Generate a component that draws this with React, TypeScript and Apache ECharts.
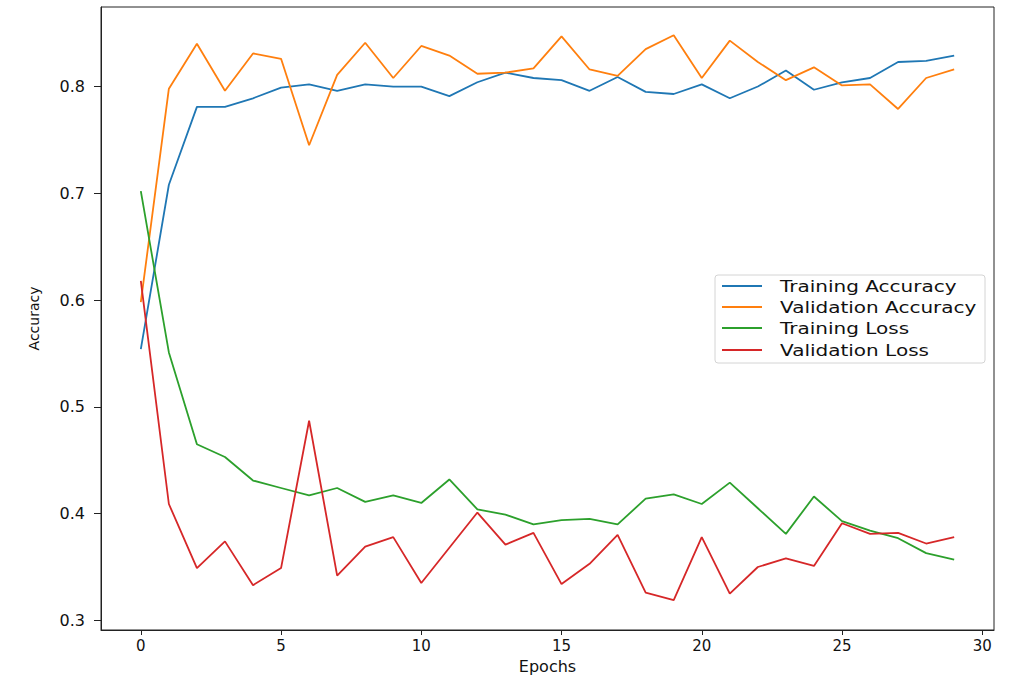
import React, { useEffect, useRef } from "react";
import * as echarts from "echarts";

const epochs = Array.from({ length: 30 }, (_, i) => i);

const trainingAccuracy = [
  0.554, 0.708, 0.781, 0.781, 0.789, 0.799, 0.802, 0.796, 0.802, 0.800,
  0.800, 0.791, 0.804, 0.813, 0.808, 0.806, 0.796, 0.809, 0.795, 0.793,
  0.802, 0.789, 0.800, 0.815, 0.797, 0.804, 0.808, 0.823, 0.824, 0.829,
];
const validationAccuracy = [
  0.598, 0.798, 0.840, 0.796, 0.831, 0.826, 0.745, 0.811, 0.841, 0.808,
  0.838, 0.829, 0.812, 0.813, 0.817, 0.847, 0.816, 0.810, 0.835, 0.848,
  0.808, 0.843, 0.823, 0.806, 0.818, 0.801, 0.802, 0.779, 0.808, 0.816,
];
const trainingLoss = [
  0.702, 0.551, 0.465, 0.453, 0.431, 0.424, 0.417, 0.424, 0.411, 0.417,
  0.410, 0.432, 0.404, 0.399, 0.390, 0.394, 0.395, 0.390, 0.414, 0.418,
  0.409, 0.429, 0.405, 0.381, 0.416, 0.393, 0.384, 0.377, 0.363, 0.357,
];
const validationLoss = [
  0.618, 0.409, 0.349, 0.374, 0.333, 0.349, 0.487, 0.342, 0.369, 0.378,
  0.335, 0.368, 0.401, 0.371, 0.382, 0.334, 0.353, 0.380, 0.326, 0.319,
  0.378, 0.325, 0.350, 0.358, 0.351, 0.391, 0.381, 0.382, 0.372, 0.378,
];

const seriesNames = ["Training Accuracy", "Validation Accuracy", "Training Loss", "Validation Loss"];
const seriesColors = ["#1f77b4", "#ff7f0e", "#2ca02c", "#d62728"];
const xTicks = [0, 5, 10, 15, 20, 25, 30];
const yTicks = [0.3, 0.4, 0.5, 0.6, 0.7, 0.8];

export default function App() {
  const ref = useRef<HTMLDivElement>(null);
  useEffect(() => {
    if (!ref.current) return;
    const chart = echarts.init(ref.current, undefined, { renderer: "svg" });
    const allData = [trainingAccuracy, validationAccuracy, trainingLoss, validationLoss];
    const font = "DejaVu Sans";

    const legendX = 715;
    const legendY = 275;
    const rowY = [286, 307, 328, 350];
    const legendElements: any[] = [
      {
        type: "rect",
        shape: { x: legendX, y: legendY, width: 270, height: 88, r: 3 },
        style: { fill: "rgba(255,255,255,0.85)", stroke: "#d4d4d4", lineWidth: 1 },
        z: 100,
      },
    ];
    seriesNames.forEach((name, k) => {
      legendElements.push({
        type: "line",
        shape: { x1: 722, y1: rowY[k], x2: 762, y2: rowY[k] },
        style: { stroke: seriesColors[k], lineWidth: 2 },
        z: 101,
      });
      legendElements.push({
        type: "text",
        x: 780,
        y: rowY[k],
        scaleX: 1.25,
        style: {
          text: name,
          fontFamily: font,
          fontSize: 16,
          fill: "#111",
          textVerticalAlign: "middle",
          verticalAlign: "middle",
        },
        z: 101,
      });
    });

    chart.setOption({
      animation: false,
      backgroundColor: "#ffffff",
      grid: {
        left: 101,
        right: 24,
        top: 7,
        bottom: 47,
        show: true,
        borderColor: "#222",
        borderWidth: 1,
        backgroundColor: "transparent",
      },
      legend: { show: false, data: seriesNames },
      graphic: legendElements,
      xAxis: {
        type: "value",
        min: -1.42,
        max: 30.42,
        name: "Epochs",
        nameLocation: "middle",
        nameGap: 28,
        nameTextStyle: { fontFamily: font, fontSize: 16, color: "#111" },
        splitLine: { show: false },
        axisLine: { show: true, onZero: false, lineStyle: { color: "#222" } },
        axisTick: { show: true, length: 5, lineStyle: { color: "#222" }, customValues: xTicks },
        axisLabel: {
          fontFamily: font,
          fontSize: 15,
          color: "#111",
          margin: 8,
          customValues: xTicks,
        },
      },
      yAxis: {
        type: "value",
        min: 0.291,
        max: 0.8745,
        name: "Accuracy",
        nameLocation: "middle",
        nameGap: 60,
        nameTextStyle: { fontFamily: font, fontSize: 14, color: "#111" },
        splitLine: { show: false },
        axisLine: { show: true, onZero: false, lineStyle: { color: "#222" } },
        axisTick: { show: true, length: 7, lineStyle: { color: "#222" }, customValues: yTicks },
        axisLabel: {
          fontFamily: font,
          fontSize: 16,
          color: "#111",
          margin: 16,
          customValues: yTicks,
          formatter: (v: number) => v.toFixed(1),
        },
      },
      series: seriesNames.map((name, k) => ({
        name,
        type: "line",
        data: epochs.map((e, i) => [e, allData[k][i]]),
        symbol: "none",
        lineStyle: { width: 1.8, color: seriesColors[k] },
        itemStyle: { color: seriesColors[k] },
      })),
    });
    return () => chart.dispose();
  }, []);
  return <div ref={ref} style={{ width: 1018, height: 679, position: "absolute", left: 0, top: 0 }} />;
}
